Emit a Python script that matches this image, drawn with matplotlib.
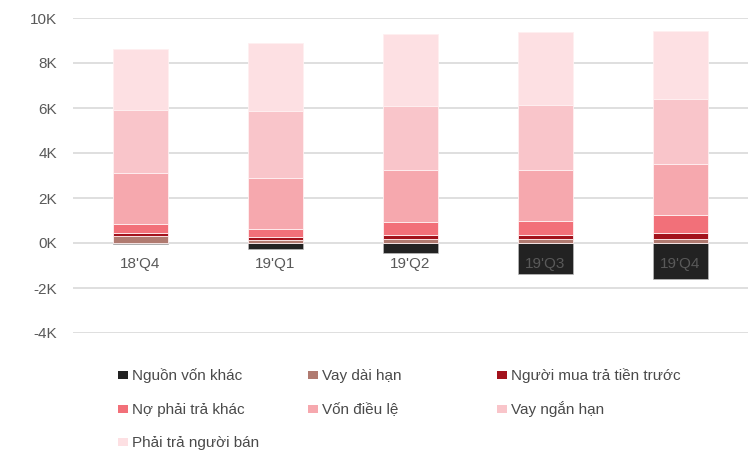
import matplotlib
matplotlib.use("Agg")
import matplotlib.pyplot as plt
from matplotlib.patches import Rectangle
from matplotlib.ticker import FuncFormatter
import numpy as np

plt.rcParams['font.family'] = ['Liberation Sans', 'DejaVu Sans']

categories = ["18'Q4", "19'Q1", "19'Q2", "19'Q3", "19'Q4"]
nguon_von_khac = [-50, -250, -440, -1360, -1600]
vay_dai_han = [300, 120, 160, 160, 160]
nguoi_mua = [140, 150, 180, 200, 300]
no_phai_tra_khac = [400, 340, 590, 620, 800]
von_dieu_le = [2270, 2300, 2300, 2260, 2250]
vay_ngan_han = [2800, 2960, 2860, 2890, 2880]
phai_tra_nguoi_ban = [2730, 3010, 3220, 3230, 3020]

series_pos = [
    ("Vay dài hạn", vay_dai_han, "#B07A70"),
    ("Người mua trả tiền trước", nguoi_mua, "#A3121C"),
    ("Nợ phải trả khác", no_phai_tra_khac, "#F27079"),
    ("Vốn điều lệ", von_dieu_le, "#F6A8AE"),
    ("Vay ngắn hạn", vay_ngan_han, "#F9C5CA"),
    ("Phải trả người bán", phai_tra_nguoi_ban, "#FDE0E3"),
]
neg_name, neg_color = "Nguồn vốn khác", "#222222"

W, H = 756, 457
fig = plt.figure(figsize=(W/100, H/100), dpi=100)
ax = fig.add_axes([73/W, 1-333/H, 675/W, 315/H])

x = np.arange(len(categories))
w = 0.405
ax.bar(x, nguon_von_khac, width=w, color=neg_color, edgecolor="#bbbbbb", linewidth=0.5, zorder=2)
bottom = np.zeros(len(categories))
for name, vals, col in series_pos:
    ax.bar(x, vals, width=w, bottom=bottom, color=col, edgecolor="#fff0f1", linewidth=0.6, zorder=2)
    bottom += np.array(vals)

ax.set_ylim(-4000, 10000)
ax.set_xlim(-0.5, len(categories)-0.5)
ax.set_yticks(np.arange(-4000, 10001, 2000))
ax.yaxis.set_major_formatter(FuncFormatter(lambda v, p: f"{v/1000:.0f}K"))
ax.grid(axis='y', color='#d9d9d9', linewidth=1.2)
ax.set_axisbelow(True)
ax.xaxis.set_zorder(3)
for s in ax.spines.values():
    s.set_visible(False)
ax.spines['bottom'].set_position(('data', 0))
ax.set_xticks(x)
ax.set_xticklabels(categories)
ax.tick_params(axis='x', length=0, pad=10, labelsize=11, labelcolor='#595959')
ax.tick_params(axis='y', length=0, pad=11.5, labelsize=11, labelcolor='#595959')

# legend (manual layout to mimic the original)
cols = {neg_name: neg_color, **{n: c for n, _, c in series_pos}}
order = [neg_name, "Vay dài hạn", "Người mua trả tiền trước",
         "Nợ phải trả khác", "Vốn điều lệ", "Vay ngắn hạn",
         "Phải trả người bán"]
col_x = [118, 308, 497]
row_y = [375, 409, 442]
sq_w, sq_h = 9.5, 8
for i, name in enumerate(order):
    cx = col_x[i % 3]
    cy = row_y[i // 3]
    fig.patches.append(Rectangle((cx/W, 1-(cy+sq_h/2)/H), sq_w/W, sq_h/H,
                                 transform=fig.transFigure, facecolor=cols[name],
                                 edgecolor='none'))
    fig.text((cx+14)/W, 1-(cy+5)/H, name, fontsize=11, color='#4a4a4a',
             ha='left', va='baseline')

fig.savefig("out.png", dpi=100)
